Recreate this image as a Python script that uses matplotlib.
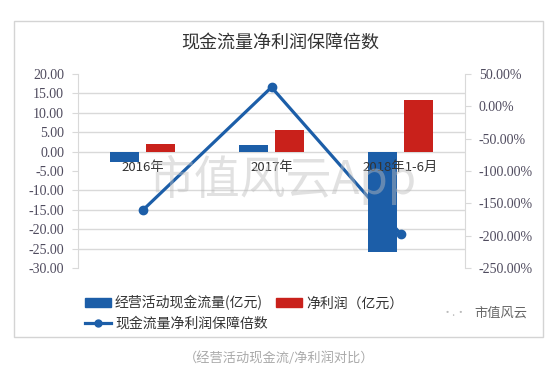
import matplotlib.pyplot as plt
import matplotlib.patches as mpatches
from matplotlib.lines import Line2D
import numpy as np

plt.rcParams['font.family'] = ['Noto Sans CJK SC', 'DejaVu Sans']

# data
categories = ['2016年', '2017年', '2018年1-6月']
cash_flow = [-2.8, 1.6, -25.8]        # 经营活动现金流量(亿元)
net_profit = [2.0, 5.6, 13.3]         # 净利润(亿元)
coverage_pct = [-161.0, 29.5, -197.0]  # 现金流量净利润保障倍数 (%)

left_ticks = np.arange(-30, 21, 5)
right_ticks = np.arange(-250, 51, 50)

blue = '#1c5ea8'
red = '#c9211b'
grid_c = '#d9d9d9'
tick_c = '#4f4b5e'

fig = plt.figure(figsize=(5.5, 3.69), dpi=100)
fig.patch.set_facecolor('white')

# outer frame
fig.patches.append(mpatches.Rectangle((14 / 550, 1 - 337 / 369), 529 / 550, 316 / 369,
                                      transform=fig.transFigure, fill=False,
                                      edgecolor='#d4d4d4', linewidth=1.0))

# line axis underneath, bar axis on top so bars cover the line
ax_line = fig.add_axes([78 / 550, 1 - 268 / 369, 387 / 550, 194 / 369])
ax_bar = ax_line.twinx()

x = np.arange(len(categories))
w = 0.22
off = 0.14

ax_bar.bar(x - off, cash_flow, w, color=blue, zorder=3)
ax_bar.bar(x + off, net_profit, w, color=red, zorder=3)
ax_line.plot(x, coverage_pct, color=blue, linewidth=2.3, marker='o', markersize=6, zorder=3)

ax_bar.set_ylim(-30, 20)
ax_line.set_ylim(-250, 50)
ax_line.set_xlim(-0.5, 2.5)

# swap sides: bar scale on the left, percent scale on the right
ax_bar.yaxis.tick_left()
ax_line.yaxis.tick_right()
ax_bar.set_yticks(left_ticks)
ax_bar.set_yticklabels([f'{v:.2f}' for v in left_ticks])
ax_line.set_yticks(right_ticks)
ax_line.set_yticklabels([f'{v:.2f}%' for v in right_ticks])

for a in (ax_bar, ax_line):
    a.set_xticks([])
    for s in a.spines.values():
        s.set_visible(False)
    a.tick_params(axis='y', length=4, color=grid_c, labelsize=10, labelcolor=tick_c, pad=6)
    for lab in a.get_yticklabels():
        lab.set_fontfamily('Liberation Serif')
ax_line.spines['left'].set_visible(True)
ax_line.spines['right'].set_visible(True)
ax_line.spines['left'].set_color(grid_c)
ax_line.spines['right'].set_color(grid_c)

# gridlines follow the left (bar) scale; drawn on the lower axis so they stay behind everything
grid_pos = [-250 + (v + 30) * 6 for v in left_ticks]
ax_line.set_yticks(grid_pos, minor=True)
ax_line.tick_params(axis='y', which='minor', length=0)
ax_line.grid(axis='y', which='minor', color=grid_c, linewidth=1.0, zorder=0)
ax_line.set_axisbelow(True)
ax_bar.patch.set_visible(False)

# category labels near the zero line
for i, c in enumerate(categories):
    ax_bar.text(i, -4.2, c, ha='center', va='center', fontsize=9.5, color='#333333', zorder=5)

# watermark
fig.text(283 / 550, 1 - 180 / 369, '市值风云App', ha='center', va='center',
         fontsize=33, color='#bdbdbd', alpha=0.45)

fig.text(280 / 550, 1 - 43 / 369, '现金流量净利润保障倍数', ha='center', va='center',
         fontsize=13, color='#333333', fontweight='medium')

handles = [mpatches.Patch(color=blue), Line2D([], [], color=blue, linewidth=2.3, marker='o', markersize=5),
           mpatches.Patch(color=red)]
labels = ['经营活动现金流量(亿元)', '现金流量净利润保障倍数', '净利润（亿元）']
fig.legend(handles, labels, loc='upper left', bbox_to_anchor=(72 / 550, 1 - 283 / 369), ncol=2,
           frameon=False, fontsize=10, handlelength=1.9, handleheight=0.55, columnspacing=0.6,
           handletextpad=0.3, labelspacing=0.45, labelcolor='#333333')

fig.text(527 / 550, 1 - 313 / 369, '市值风云', ha='right', va='center', fontsize=9.5, color='#666666')
fig.text(454 / 550, 1 - 313 / 369, '•.•', ha='center', va='center', fontsize=8, color='#bbbbbb')

fig.text(279 / 550, 1 - 358 / 369, '（经营活动现金流/净利润对比）', ha='center', va='center',
         fontsize=9.5, color='#aaaaaa')

plt.savefig('out.png', dpi=100)
